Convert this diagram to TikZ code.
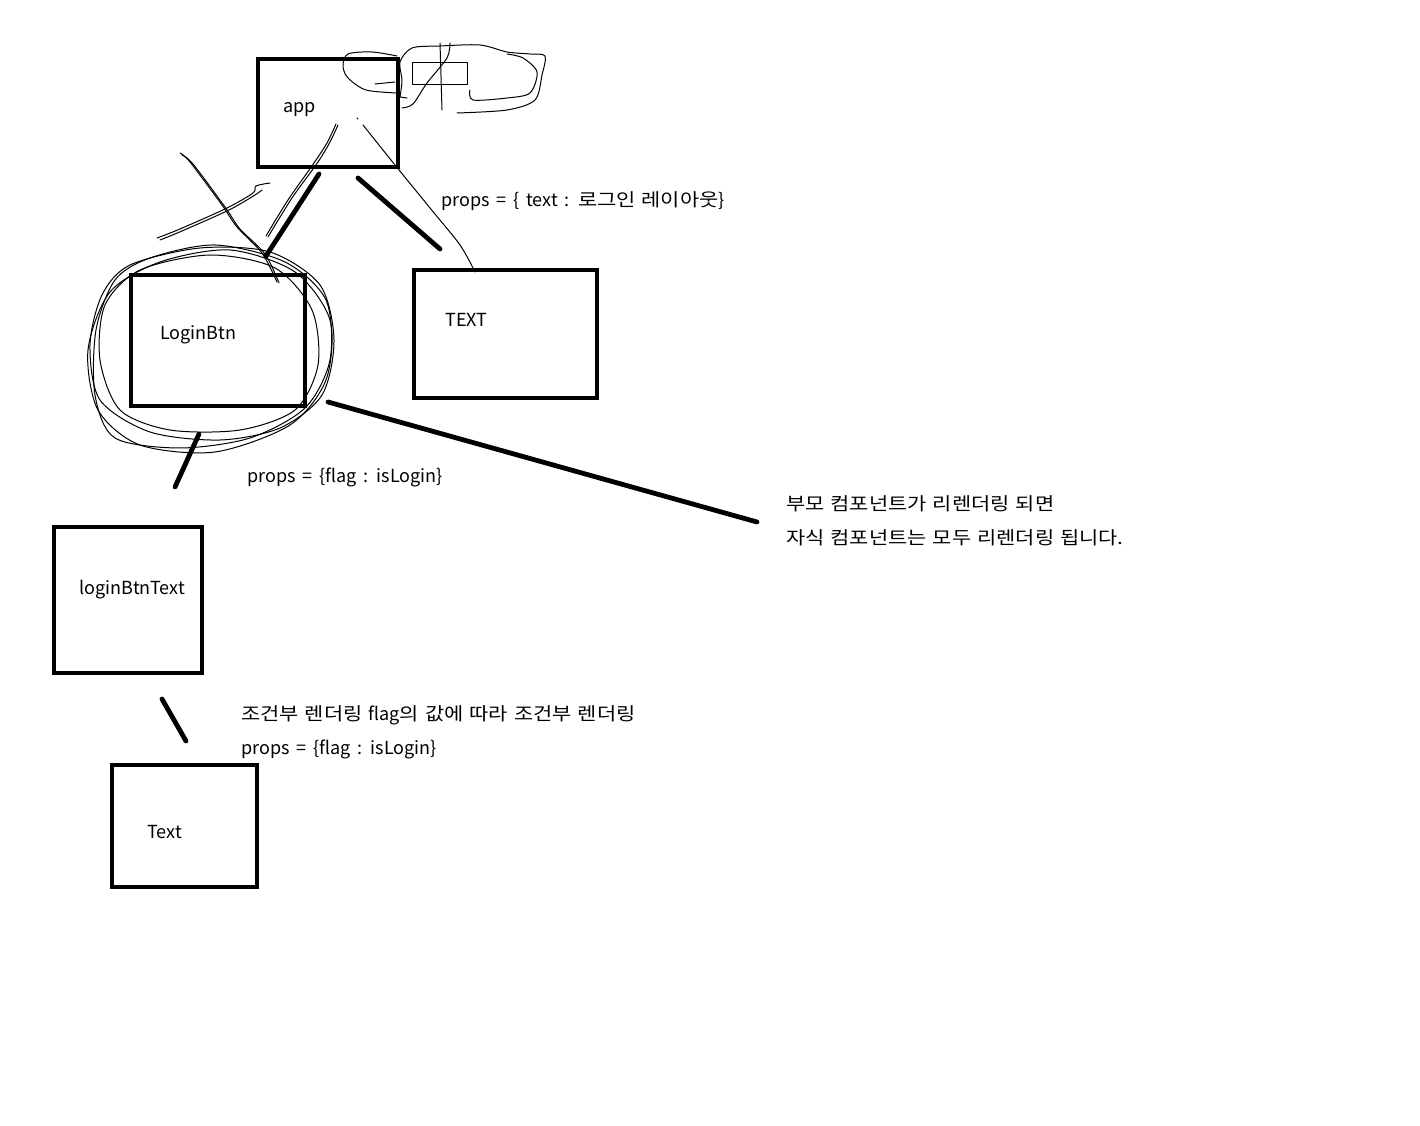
\documentclass[tikz,border=0pt]{standalone}
\usepackage{fontspec}
\setmainfont[WordSpace=1.7]{Noto Sans CJK KR}
\newfontfamily\kr[FakeStretch=1.16,WordSpace=1.3]{Noto Sans CJK KR}
\begin{document}
\begin{tikzpicture}[x=0.75pt,y=-0.75pt,
  comp/.style={draw=black,line width=3pt,inner sep=0pt,anchor=north west},
  link/.style={line width=3.6pt,line cap=round},
  scrib/.style={line width=0.75pt,line join=round,line cap=round},
  lbl/.style={anchor=west,inner sep=0pt,font=\fontsize{13.5pt}{16pt}\selectfont}]
\useasboundingbox[fill=white] (0,0) rectangle (1420,1126);

% components
\node[comp,minimum width=140*0.75pt,minimum height=108*0.75pt] (app) at (256,57) {};
\node[comp,minimum width=183*0.75pt,minimum height=128*0.75pt] (textbox) at (412,268) {};
\node[comp,minimum width=174*0.75pt,minimum height=131*0.75pt] (login) at (129,273) {};
\node[comp,minimum width=148*0.75pt,minimum height=146*0.75pt] (lbt) at (52,525) {};
\node[comp,minimum width=145*0.75pt,minimum height=122*0.75pt] (txt) at (110,763) {};

\node[lbl] (appl) at (283,110) {app};
\node[lbl] (textl) at (445,320) {TEXT};
\node[lbl] (loginl) at (160,335) {LoginBtn};
\node[lbl] (lbtl) at (79,590) {loginBtnText};
\node[lbl] (txtl) at (147,832) {Text};

\node[lbl] (p1) at (441,201) {props = \{ text : {\kr 로그인 레이아웃}\}};
\node[lbl] (p2) at (247,477) {props = \{flag : isLogin\}};
\node[lbl] (n1) at (786,504) {\kr 부모 컴포넌트가 리렌더링 되면};
\node[lbl] (n2) at (786,538) {\kr 자식 컴포넌트는 모두 리렌더링 됩니다.};
\node[lbl] (c1) at (241,715) {{\kr 조건부 렌더링 }flag{\kr 의 값에 따라 조건부 렌더링}};
\node[lbl] (c2) at (241,749) {props = \{flag : isLogin\}};

% connectors
\coordinate (a1) at (319,174); \coordinate (b1) at (266,256);
\coordinate (a2) at (358,178); \coordinate (b2) at (440,249);
\coordinate (a3) at (199,434); \coordinate (b3) at (175,487);
\coordinate (a4) at (328,402); \coordinate (b4) at (757,522);
\coordinate (a5) at (162,699); \coordinate (b5) at (186,741);
\draw[link] (a1) -- (b1);
\draw[link] (a2) -- (b2);
\draw[link] (a3) -- (b3);
\draw[link] (a4) -- (b4);
\draw[link] (a5) -- (b5);

% scribbles near app
\draw[scrib] plot[smooth] coordinates {(397,93) (366,90) (348,78) (343,66) (348,54) (372,52) (397,56)};
\draw[scrib] (375,84) -- (395,82);
\draw[scrib] plot[smooth] coordinates {(400,97) (402,80) (400,62) (412,48) (440,46) (480,45) (507,52) (530,54) (545,56) (542,75) (535,100) (507,110) (457,113)};
\draw[scrib] plot[smooth] coordinates {(470,90) (473,100) (507,98) (530,93) (537,72) (523,58) (507,54)};
\draw[scrib] (412,63) rectangle (467,85);
\draw[scrib] (440,43) -- (442,110);
\draw[scrib] plot[smooth] coordinates {(450,43) (447,58) (427,83) (413,104) (402,108)};
\draw[scrib] (400,97) -- (407,98);
\draw[scrib] (357,118) -- (358,119);
\draw[scrib] plot[smooth] coordinates {(338,125) (330,142) (318,162) (292,198) (268,237)};
\draw[scrib] plot[smooth] coordinates {(336,124) (327,143) (314,163) (288,200) (266,236)};
\draw[scrib] plot[smooth] coordinates {(363,125) (395,165) (430,208) (460,245) (475,272)};

% crossing scribbles
\draw[scrib] plot[smooth] coordinates {(180,153) (190,162) (222,205) (237,227) (262,253) (277,282)};
\draw[scrib] plot[smooth] coordinates {(182,155) (193,164) (225,207) (240,229) (265,254) (279,283)};
\draw[scrib] plot[smooth] coordinates {(157,238) (180,229) (227,208) (253,193) (256,186) (270,183)};
\draw[scrib] plot[smooth] coordinates {(160,240) (182,231) (229,210) (255,195) (262,190)};

% loops around LoginBtn
\draw[scrib] plot[smooth cycle] coordinates {(130,265) (200,248) (270,252) (320,285) (334,340) (322,395) (280,428) (220,440) (150,432) (100,400) (90,345) (102,295)};
\draw[scrib] plot[smooth cycle] coordinates {(150,258) (215,245) (285,262) (326,300) (330,360) (305,408) (250,438) (180,448) (115,438) (95,395) (96,330) (115,280)};
\draw[scrib] plot[smooth cycle] coordinates {(140,270) (210,255) (275,268) (312,310) (318,365) (295,410) (240,430) (170,430) (120,410) (100,360) (105,305)};
\draw[scrib] plot[smooth cycle] coordinates {(160,262) (230,250) (295,272) (330,320) (326,380) (290,425) (215,452) (140,445) (98,410) (88,350) (110,292)};
\end{tikzpicture}
\end{document}
